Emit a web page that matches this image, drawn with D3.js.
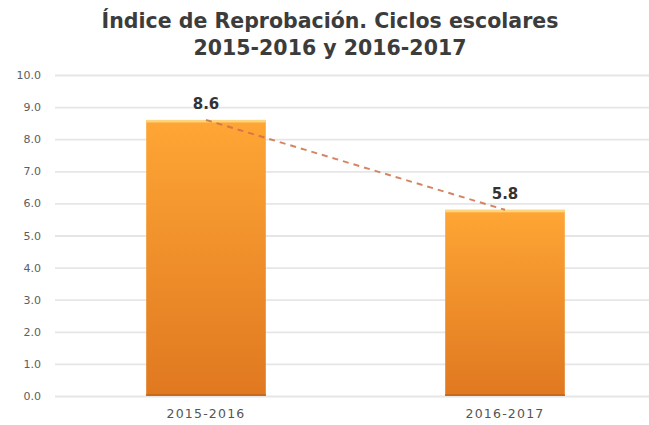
<!DOCTYPE html>
<html><head><meta charset="utf-8">
<script src="https://cdn.jsdelivr.net/npm/d3@7"></script>
<style>body{margin:0;background:#fff}svg{display:block}</style>
</head><body>
<svg id="c" width="649" height="425"></svg>
<script>
const categories = ["2015-2016", "2016-2017"];
const values = [8.6, 5.8];
const yTicks = [0,1,2,3,4,5,6,7,8,9,10];
const titleLines = ["Índice de Reprobación. Ciclos escolares", "2015-2016 y 2016-2017"];

const svg = d3.select("#c");
const W = 649, H = 425;
const FONT = "DejaVu Sans, Verdana, sans-serif";
const x = d3.scaleBand().domain(categories).range([56.5, 654.5]).padding(0);
const y = d3.scaleLinear().domain([0, 10]).range([396, 75]);
const barW = x.bandwidth() * 0.4;
const cx = c => x(c) + x.bandwidth()/2;

const defs = svg.append("defs");
const g = defs.append("linearGradient").attr("id","bg").attr("x1",0).attr("y1",0).attr("x2",0).attr("y2",1);
g.append("stop").attr("offset","0%").attr("stop-color","#fea635");
g.append("stop").attr("offset","100%").attr("stop-color","#e07820");

// title
svg.append("g").selectAll("text").data(titleLines).join("text")
  .attr("x", 330).attr("y", (d,i)=>27.5 + i*27.5)
  .attr("text-anchor","middle")
  .attr("font-family",FONT)
  .attr("font-weight","bold").attr("font-size",20.5).attr("fill","#3c3c3c")
  .text(d=>d);

// grid + y labels
const gridLeft = 55;
const yAxis = d3.axisLeft(y).tickValues(yTicks).tickFormat(d3.format(".1f"))
  .tickSize(-(W - gridLeft)).tickPadding(14);
const ga = svg.append("g").attr("transform",`translate(${gridLeft},0)`).call(yAxis);
ga.select(".domain").remove();
ga.selectAll(".tick line").attr("stroke","#e6e6e6").attr("stroke-width",1.8);
ga.selectAll(".tick text").attr("fill","#5e5e5e").attr("font-size",11)
  .attr("font-family",FONT);

// bars
svg.append("g").selectAll("rect").data(values).join("rect")
  .attr("x",(d,i)=>cx(categories[i]) - barW/2)
  .attr("width",barW)
  .attr("y",d=>y(d)).attr("height",d=>y(0)-y(d))
  .attr("fill","url(#bg)");
svg.append("g").selectAll("rect").data(values).join("rect")
  .attr("x",(d,i)=>cx(categories[i]) - barW/2)
  .attr("width",barW).attr("y",d=>y(d)).attr("height",2.5)
  .attr("fill","#fdd57e");
svg.append("g").selectAll("rect").data(values).join("rect")
  .attr("x",(d,i)=>cx(categories[i]) - barW/2)
  .attr("width",barW).attr("y",y(0)-2).attr("height",2)
  .attr("fill","#c9691c");

// dashed trend line
const line = d3.line().x((d,i)=>cx(categories[i])).y(d=>y(d));
svg.append("path").datum(values).attr("d",line)
  .attr("fill","none").attr("stroke","#cc7048").attr("stroke-width",2)
  .attr("stroke-dasharray","6,5").attr("opacity",0.85);

// value labels
svg.append("g").selectAll("text").data(values).join("text")
  .attr("x",(d,i)=>cx(categories[i]))
  .attr("y",d=>y(d) - 11)
  .attr("text-anchor","middle")
  .attr("font-family",FONT)
  .attr("font-weight","bold").attr("font-size",15).attr("fill","#333")
  .text(d=>d3.format(".1f")(d));

// x labels
svg.append("g").selectAll("text").data(categories).join("text")
  .attr("x",d=>cx(d))
  .attr("y",418)
  .attr("text-anchor","middle")
  .attr("font-family",FONT)
  .attr("font-size",12.5).attr("letter-spacing",1.2).attr("fill","#555")
  .text(d=>d);
</script>
</body></html>
